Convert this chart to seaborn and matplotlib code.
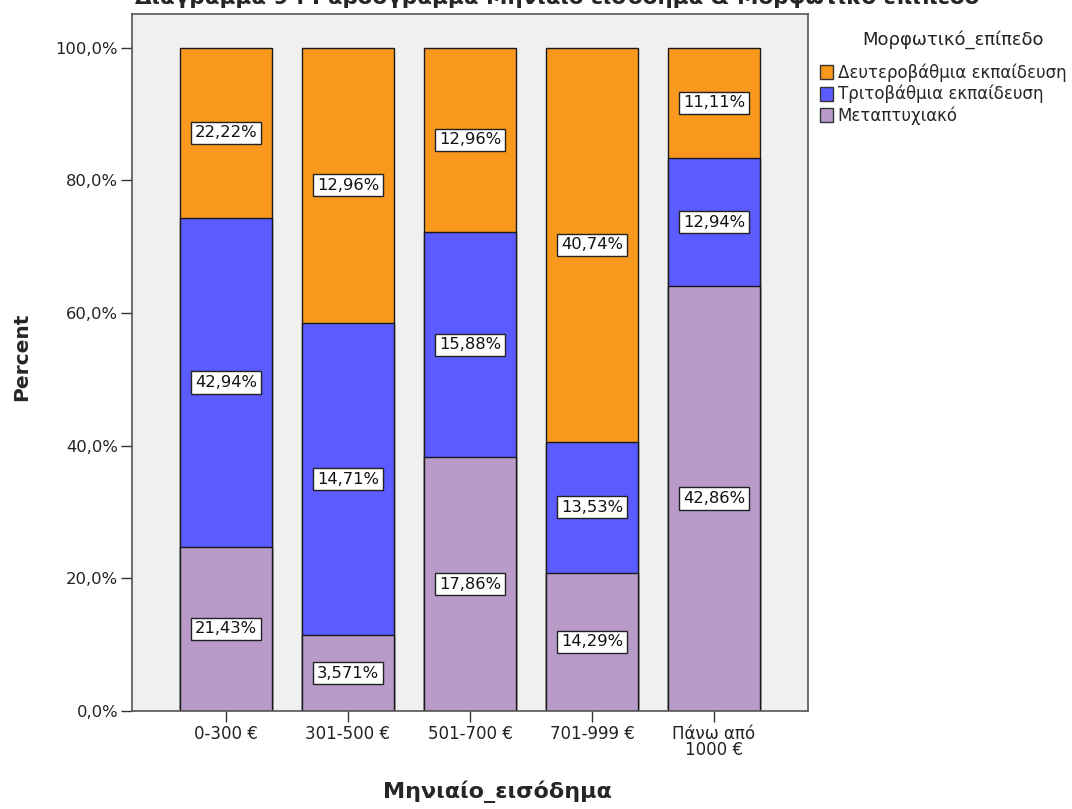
import matplotlib
matplotlib.use("Agg")
import matplotlib.pyplot as plt
from matplotlib.patches import Patch
import numpy as np
import pandas as pd
import seaborn as sns

# Income groups and education-level shares (% of each education level per income group)
income = ["0-300 €", "301-500 €", "501-700 €", "701-999 €", "Πάνω από\n1000 €"]
levels = ["Δευτεροβάθμια εκπαίδευση", "Τριτοβάθμια εκπαίδευση", "Μεταπτυχιακό"]
secondary = [22.22, 12.96, 12.96, 40.74, 11.11]
tertiary = [42.94, 14.71, 15.88, 13.53, 12.94]
postgrad = [21.43, 3.571, 17.86, 14.29, 42.86]
yticks = [0, 20, 40, 60, 80, 100]

colors = {"Δευτεροβάθμια εκπαίδευση": "#F8981D",
          "Τριτοβάθμια εκπαίδευση": "#5B5BFF",
          "Μεταπτυχιακό": "#B89BC9"}

sns.set_style("white")
plt.rcParams["font.family"] = ["DejaVu Sans"]

df = pd.DataFrame({"income": income, "sec": secondary, "ter": tertiary, "post": postgrad})
total = df[["sec", "ter", "post"]].sum(axis=1)
# Stack normalised to 100% within each income group
df["c_post"] = df["post"] / total * 100
df["c_ter"] = df["c_post"] + df["ter"] / total * 100
df["c_sec"] = df["c_ter"] + df["sec"] / total * 100

fig = plt.figure(figsize=(10.72, 8.09), dpi=100)
ax = fig.add_axes([132 / 1072, 1 - 711 / 809, (808 - 132) / 1072, (711 - 14) / 809])
ax.set_facecolor("#F0F0F0")

for col, lvl in [("c_sec", levels[0]), ("c_ter", levels[1]), ("c_post", levels[2])]:
    sns.barplot(data=df, x="income", y=col, color=colors[lvl], width=0.75,
                edgecolor="#1a1a1a", linewidth=1.0, saturation=1, ax=ax)

# Value labels centred in each segment
box = dict(boxstyle="square,pad=0.22", facecolor="white", edgecolor="#222222", linewidth=1.0)
def fmt(v):
    s = f"{v:.4g}" if v < 10 else f"{v:.2f}"
    return s.replace(".", ",") + "%"
for i in range(len(income)):
    segs = [(0, df["c_post"][i], postgrad[i]),
            (df["c_post"][i], df["c_ter"][i], tertiary[i]),
            (df["c_ter"][i], df["c_sec"][i], secondary[i])]
    for lo, hi, lab in segs:
        ax.text(i, (lo + hi) / 2, fmt(lab), ha="center", va="center",
                fontsize=11.8, color="#111111", bbox=box)

ax.set_ylim(0, 105.1)
ax.set_xlim(-0.77, 4.77)
ax.set_yticks(yticks)
ax.set_yticklabels([f"{t:.1f}".replace(".", ",") + "%" for t in yticks], fontsize=11.8, color="#222222")
ax.set_xticks(range(len(income)))
ax.set_xticklabels(income, fontsize=12, color="#222222", linespacing=0.9)
ax.tick_params(axis="both", direction="out", length=8, width=1, color="#333333", pad=2,
               left=True, bottom=True)
for s in ax.spines.values():
    s.set_color("#555555")
    s.set_linewidth(1.2)

ax.set_ylabel("")
ax.set_xlabel("")
fig.text(22 / 1072, 1 - 357 / 809, "Percent", rotation=90, ha="center", va="center",
         fontsize=14.5, fontweight="bold")
fig.text(497 / 1072, 1 - 792 / 809, "Μηνιαίο_εισόδημα", ha="center", va="center",
         fontsize=16, fontweight="bold")

# Legend: title drawn separately so the entries sit a little lower
fig.text(953 / 1072, 1 - 40 / 809, "Μορφωτικό_επίπεδο", ha="center", va="center",
         fontsize=13, color="#222222")
handles = [Patch(facecolor=colors[l], edgecolor="#333333", label=l) for l in levels]
leg = fig.legend(handles=handles, loc="upper left",
                 bbox_to_anchor=(820 / 1072, 1 - 63 / 809), frameon=False,
                 fontsize=12, handlelength=0.75, handleheight=0.9,
                 handletextpad=0.3, labelspacing=0.2, borderaxespad=0, borderpad=0)

fig.text(0.52, 1 + 3 / 809, "Διάγραμμα 9 : Ραβδόγραμμα Μηνιαίο εισόδημα & Μορφωτικό επίπεδο",
         ha="center", va="center", fontsize=15.5, fontweight="bold")

fig.savefig("out.png", dpi=100)
